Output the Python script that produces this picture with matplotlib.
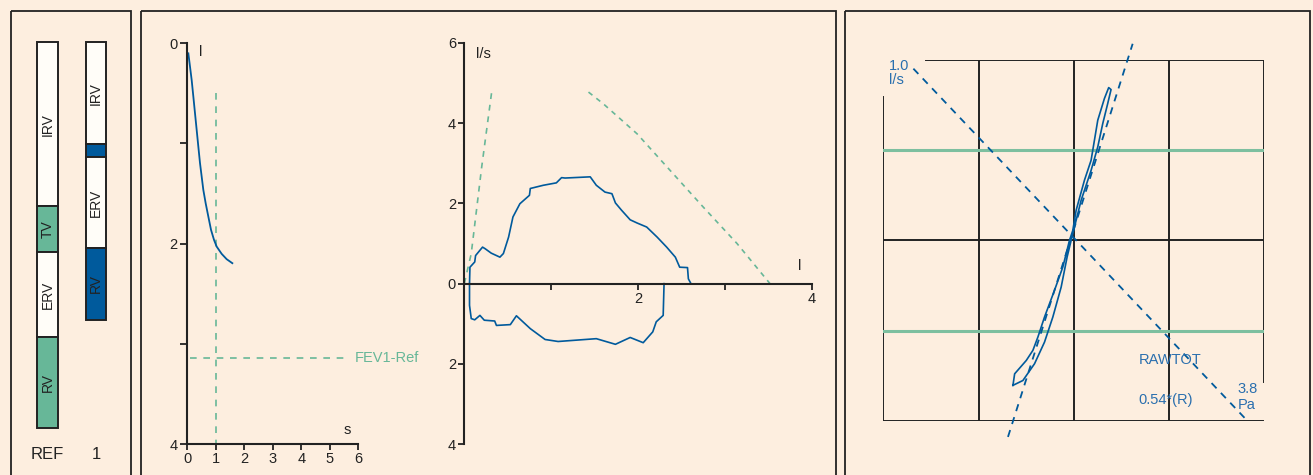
import numpy as np
import matplotlib
matplotlib.use("Agg")
import matplotlib.pyplot as plt
from matplotlib.patches import Rectangle

plt.rcParams['font.family'] = ['Liberation Sans', 'DejaVu Sans']

BG = '#fdeedf'
GREEN = '#67b798'
GREEN_L = '#7dbf9f'
BLUE = '#005a9c'
TXT_BLUE = '#2a6fae'
INK = '#222222'

# lung volume bars (litres, from TLC downwards)
bar_names = ["REF", "1"]
seg_labels = ["IRV", "TV", "ERV", "RV"]
ref_vols = [2.65, 0.74, 1.37, 1.47]
meas_vols = [1.65, 0.21, 1.47, 1.15]

# volume-time curve
vt_t = [0.036, 0.095, 0.153, 0.212, 0.27, 0.329, 0.387, 0.446, 0.504, 0.562, 0.644,
        0.738, 0.832, 0.937, 1.03, 1.206, 1.381, 1.58]
vt_v = [0.1, 0.233, 0.366, 0.532, 0.698, 0.865, 1.031, 1.197, 1.33, 1.463, 1.596,
        1.73, 1.862, 1.962, 2.029, 2.102, 2.155, 2.195]
fev1_ref = 3.14

# flow-volume loop
exp_vol = [0.06, 0.065, 0.12, 0.13, 0.21, 0.24, 0.31, 0.41, 0.45, 0.51, 0.56, 0.64,
           0.75, 0.76, 0.91, 1.06, 1.12, 1.16, 1.45, 1.52, 1.62, 1.70, 1.74, 1.81,
           1.91, 1.99, 2.10, 2.22, 2.33, 2.43, 2.48, 2.57, 2.58, 2.61]
exp_flow = [0.0, 0.41, 0.54, 0.70, 0.91, 0.87, 0.76, 0.66, 0.75, 1.16, 1.66, 1.99,
            2.20, 2.37, 2.45, 2.51, 2.64, 2.63, 2.66, 2.45, 2.28, 2.24, 2.01, 1.83,
            1.59, 1.51, 1.41, 1.16, 0.91, 0.66, 0.41, 0.40, 0.12, 0.0]
insp_vol = [0.06, 0.06, 0.08, 0.12, 0.18, 0.23, 0.35, 0.37, 0.53, 0.60, 0.76, 0.93,
            1.08, 1.52, 1.74, 1.91, 2.06, 2.17, 2.21, 2.29, 2.30]
insp_flow = [0.0, -0.54, -0.87, -0.90, -0.79, -0.91, -0.93, -1.04, -1.02, -0.80, -1.12,
             -1.39, -1.44, -1.37, -1.51, -1.34, -1.47, -1.20, -0.95, -0.79, 0.0]
ref_up_vol = [0.0, 0.08, 0.2, 0.315]
ref_up_flow = [0.0, 0.75, 2.9, 4.77]
ref_down_vol = [1.43, 1.60, 1.99, 2.37, 2.75, 3.14, 3.52]
ref_down_flow = [4.77, 4.48, 3.73, 2.82, 1.91, 1.0, 0.0]

# resistance loop (pressure Pa, flow l/s)
loop_p = [-1.214, -1.180, -0.948, -0.816, -0.716, -0.584, -0.385, -0.219, -0.086, -0.020,
          0.046, 0.212, 0.345, 0.478, 0.610, 0.696, 0.743, 0.676, 0.577, 0.478, 0.345,
          0.146, 0.013, -0.053, -0.133, -0.252, -0.418, -0.584, -0.783, -1.015, -1.214]
loop_f = [-0.804, -0.740, -0.666, -0.610, -0.536, -0.425, -0.277, -0.148, 0.0, 0.055,
          0.166, 0.333, 0.444, 0.666, 0.786, 0.847, 0.836, 0.758, 0.647, 0.518, 0.388,
          0.222, 0.074, 0.0, -0.092, -0.259, -0.425, -0.564, -0.684, -0.777, -0.804]
raw_line_p = [-3.20, 3.46]
raw_line_f = [0.952, -1.0]
steep_line_p = [-1.313, 1.174]
steep_line_f = [-1.09, 1.09]

W, H = 1313, 475
fig = plt.figure(figsize=(W / 100, H / 100), dpi=100, facecolor=BG)


def px_axes(x0, y0, x1, y1, **kw):
    return fig.add_axes([x0 / W, 1 - y1 / H, (x1 - x0) / W, (y1 - y0) / H], **kw)


# panel frames
frame = px_axes(0, 0, W, H)
frame.set_xlim(0, W)
frame.set_ylim(H, 0)
frame.axis('off')
for x0, x1 in [(10.5, 130.5), (141, 835.5), (845, 1309.5)]:
    frame.add_patch(Rectangle((x0, 10.5), x1 - x0, 480, fill=False, ec=INK, lw=1.3))

# ---- panel 1: volume bars
ax0 = px_axes(23.25, 42, 120.25, 428)
ax0.patch.set_alpha(0)
ax0.set_xlim(-0.5, 1.5)
ax0.set_ylim(sum(ref_vols), 0)
ax0.axis('off')
ref_cols = ['#fffdf8', GREEN, '#fffdf8', GREEN]
meas_cols = ['#fffdf8', BLUE, '#fffdf8', BLUE]
for i, (vols, cols) in enumerate([(ref_vols, ref_cols), (meas_vols, meas_cols)]):
    bottom = 0
    for lab, v, c in zip(seg_labels, vols, cols):
        ax0.bar(i, v, bottom=bottom, width=0.43, color=c, edgecolor=INK, lw=1.4, clip_on=False)
        if v > 0.5:
            ax0.text(i, bottom + v / 2, lab, rotation=90, ha='center', va='center',
                     fontsize=10, color=INK)
        bottom += v
    ax0.text(i, -0.08, bar_names[i], transform=ax0.get_xaxis_transform(), ha='center',
             va='baseline', fontsize=12, color=INK)

# ---- panel 2a: volume-time
ax1 = px_axes(187.3, 43.3, 358.3, 444)
ax1.patch.set_alpha(0)
ax1.set_xlim(0, 6)
ax1.set_ylim(4, 0)
for s in ['top', 'right']:
    ax1.spines[s].set_visible(False)
for s in ['left', 'bottom']:
    ax1.spines[s].set_color(INK)
    ax1.spines[s].set_linewidth(1.5)
ax1.set_xticks(range(7))
ax1.set_yticks([0, 1, 2, 3, 4])
ax1.set_yticklabels(['0', '', '2', '', '4'])
ax1.tick_params(axis='y', length=5, width=1.3, pad=2, labelsize=10.5, colors=INK)
ax1.tick_params(axis='x', length=4, width=1.3, pad=2, labelsize=10.5, colors=INK)
ax1.plot([1, 1], [0.5, 4], color=GREEN, lw=1.2, dashes=(4, 4))
ax1.plot([0.1, 5.6], [fev1_ref, fev1_ref], color=GREEN, lw=1.2, dashes=(4, 4))
ax1.text(5.88, fev1_ref + 0.04, "FEV1-Ref", color=GREEN, fontsize=10.5, va='baseline',
         clip_on=False)
ax1.plot(vt_t, vt_v, color=BLUE, lw=1.3)
ax1.text(0.42, 0.127, "l", fontsize=10.5, color=INK, va='baseline')
ax1.text(5.47, 3.9, "s", fontsize=10.5, color=INK, va='baseline')

# ---- panel 2b: flow-volume
ax2 = px_axes(464.3, 42.7, 811.7, 444.3)
ax2.patch.set_alpha(0)
ax2.set_xlim(0, 4)
ax2.set_ylim(-4, 6)
for s in ['top', 'right']:
    ax2.spines[s].set_visible(False)
for s in ['left', 'bottom']:
    ax2.spines[s].set_color(INK)
    ax2.spines[s].set_linewidth(1.5)
ax2.spines['bottom'].set_position(('data', 0))
ax2.set_xticks([1, 2, 3, 4])
ax2.set_xticklabels(['', '2', '', '4'])
ax2.set_yticks([-4, -2, 0, 2, 4, 6])
ax2.set_yticklabels(['4', '2', '0', '2', '4', '6'])
ax2.tick_params(axis='y', length=4, width=1.3, pad=2, labelsize=10.5, colors=INK)
ax2.tick_params(axis='x', length=4, width=1.3, pad=2, labelsize=10.5, colors=INK)
ax2.plot(ref_up_vol, ref_up_flow, color=GREEN, lw=1.2, dashes=(3.5, 3.5))
ax2.plot(ref_down_vol, ref_down_flow, color=GREEN, lw=1.2, dashes=(3, 3))
ax2.plot(exp_vol, exp_flow, color=BLUE, lw=1.2)
ax2.plot(insp_vol, insp_flow, color=BLUE, lw=1.2)
ax2.text(0.13, 5.63, "l/s", fontsize=10.5, color=INK, va='baseline')
ax2.text(3.84, 0.33, "l", fontsize=10.5, color=INK, va='baseline')

# ---- panel 3: resistance loop
ax3 = px_axes(883.3, 60, 1264.3, 420.7)
ax3.patch.set_alpha(0)
ax3.set_xlim(-3.8, 3.8)
ax3.set_ylim(-1, 1)
ax3.axis('off')
grid_x = [-1.9, 0, 1.9]
for gx in grid_x:
    ax3.plot([gx, gx], [-1, 1], color=INK, lw=1.4)
ax3.plot([-3.8, -3.8], [-1, 0.795], color=INK, lw=1.4)
ax3.plot([3.8, 3.8], [-0.786, 1], color=INK, lw=1.4)
ax3.plot([-2.94, 3.8], [1, 1], color=INK, lw=1.4)
ax3.plot([-3.8, 3.8], [0, 0], color=INK, lw=1.4)
ax3.plot([-3.8, 3.78], [-1, -1], color=INK, lw=1.4)
for gy in [0.5, -0.5]:
    ax3.plot([-3.8, 3.8], [gy * 1.005, gy * 1.005], color=GREEN_L, lw=2.2)
ax3.plot(raw_line_p, raw_line_f, color=BLUE, lw=1.3, dashes=(4, 3.5), clip_on=False)
ax3.plot(steep_line_p, steep_line_f, color=BLUE, lw=1.3, dashes=(4, 3.5), clip_on=False)
ax3.plot(loop_p, loop_f, color=BLUE, lw=1.2)
ax3.text(-3.69, 0.943, "1.0", color=TXT_BLUE, fontsize=10.5, va='baseline')
ax3.text(-3.69, 0.865, "l/s", color=TXT_BLUE, fontsize=10.5, va='baseline')
ax3.text(1.293, -0.688, "RAWTOT", color=TXT_BLUE, fontsize=10.5, va='baseline')
ax3.text(1.293, -0.91, "0.54*(R)", color=TXT_BLUE, fontsize=10.5, va='baseline')
ax3.text(3.27, -0.847, "3.8", color=TXT_BLUE, fontsize=10.5, va='baseline')
ax3.text(3.27, -0.934, "Pa", color=TXT_BLUE, fontsize=10.5, va='baseline')

fig.savefig("out.png", dpi=100, facecolor=BG)
